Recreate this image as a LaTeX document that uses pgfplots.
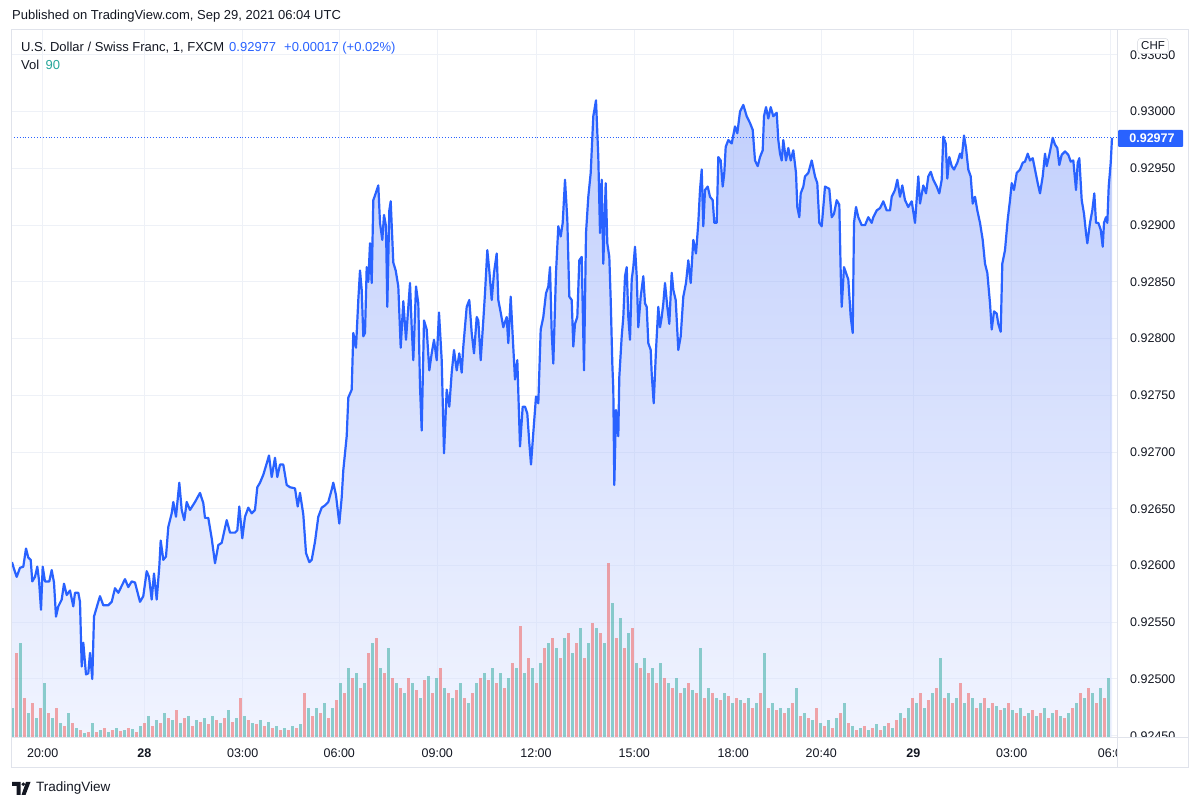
\documentclass[border=0pt]{standalone}
\usepackage{pgfplots}
\pgfplotsset{compat=1.18}
\usepackage{pgfplotstable}
\usepackage{fontspec}
\setmainfont{Liberation Sans}
\definecolor{tvblue}{HTML}{2962FF}
\definecolor{tvtext}{HTML}{131722}
\definecolor{tvgrid}{HTML}{EEF1F7}
\definecolor{tvborder}{HTML}{E0E3EB}
\definecolor{tvboxborder}{HTML}{D1D4DC}
\definecolor{tvteal}{HTML}{26A69A}
\definecolor{tvred}{HTML}{EF5350}
\definecolor{areatop}{HTML}{7896FA}
\definecolor{areabot}{HTML}{E1E8FF}

\pgfplotstableread{
x p
12 0.92603
13.3 0.92599
16.7 0.92590
20 0.92598
23.3 0.92599
26 0.92615
28.3 0.92607
30.7 0.92605
32.3 0.92586
35 0.92590
37.3 0.92599
39 0.92587
41 0.92561
42.7 0.92599
45 0.92586
49.3 0.92586
51.7 0.92596
54 0.92585
56 0.92555
58.3 0.92564
61.7 0.92570
64 0.92584
66.7 0.92574
70 0.92578
73.3 0.92564
75 0.92576
78.3 0.92576
80 0.92568
81.7 0.92511
83.3 0.92532
86 0.92504
88.3 0.92505
90 0.92523
92.3 0.92500
94 0.92555
97.3 0.92565
100 0.92573
103.3 0.92565
108.3 0.92565
111.7 0.92568
115 0.92580
118.3 0.92576
125 0.92588
128.3 0.92581
131.7 0.92586
135 0.92585
140 0.92568
143.3 0.92573
146.7 0.92595
149 0.92590
151.7 0.92570
154 0.92593
156.7 0.92570
159.3 0.92599
160.7 0.92622
163.3 0.92605
166 0.92608
168.3 0.92634
171.7 0.92646
173.3 0.92656
176 0.92643
179.3 0.92673
181.7 0.92649
184.3 0.92640
186.7 0.92656
190 0.92649
195 0.92656
200 0.92664
203.3 0.92655
205 0.92642
208.3 0.92642
211.7 0.92624
215 0.92602
218.3 0.92618
221.7 0.92620
226.7 0.92640
230 0.92629
235 0.92629
237.3 0.92631
239.3 0.92652
242.3 0.92624
245 0.92643
248.3 0.92651
251.7 0.92646
255 0.92649
257.3 0.92669
260 0.92673
263.3 0.92680
266.7 0.92690
269 0.92697
271.7 0.92678
275 0.92695
277.3 0.92678
280 0.92689
283.3 0.92689
286.7 0.92671
290 0.92669
295 0.92668
297.7 0.92652
300 0.92664
303.3 0.92645
306 0.92611
309.3 0.92603
311.7 0.92605
315 0.92621
318.3 0.92643
321.7 0.92651
325 0.92653
328.3 0.92656
331.7 0.92667
333.3 0.92673
336 0.92662
339.3 0.92637
341.7 0.92660
343.3 0.92684
345 0.92699
346.7 0.92714
348.3 0.92748
351.7 0.92755
353.3 0.92805
356 0.92792
358.3 0.92834
360 0.92860
361.7 0.92843
363.3 0.92802
365 0.92805
366.7 0.92863
368.3 0.92850
370 0.92884
371.7 0.92849
373.3 0.92922
375.7 0.92928
378.3 0.92935
380 0.92902
382.3 0.92887
384 0.92909
386 0.92899
387.3 0.92828
389.3 0.92913
390.7 0.92921
393.3 0.92867
395.7 0.92860
398.3 0.92846
400.7 0.92792
403.3 0.92833
406 0.92799
410 0.92849
411.7 0.92810
413.3 0.92781
416 0.92846
418.3 0.92831
420 0.92758
421.7 0.92719
424 0.92816
426.7 0.92808
429.3 0.92772
431.7 0.92787
434 0.92799
436.7 0.92781
439 0.92823
441.7 0.92781
444 0.92699
446.7 0.92755
449.3 0.92740
451.7 0.92770
454 0.92790
456.7 0.92772
459.3 0.92787
461.7 0.92770
463.3 0.92793
466.7 0.92828
469.3 0.92834
471.7 0.92805
474 0.92787
476.7 0.92819
478.3 0.92816
480.7 0.92781
483.3 0.92816
485 0.92840
487.3 0.92878
489.3 0.92860
491.7 0.92834
494 0.92858
496.7 0.92875
498.3 0.92834
500.7 0.92823
503.3 0.92810
506.7 0.92819
508.3 0.92796
510.7 0.92837
512.7 0.92802
515 0.92764
517.3 0.92781
520 0.92705
522.7 0.92740
525 0.92740
527.3 0.92734
529.3 0.92708
531 0.92689
533.3 0.92717
536 0.92749
538.3 0.92743
540.7 0.92808
543.3 0.92819
546 0.92840
548.3 0.92846
550 0.92863
551.7 0.92805
553.3 0.92778
556 0.92858
558.3 0.92899
560.7 0.92890
562.7 0.92902
565 0.92940
567.3 0.92905
569.3 0.92837
571.7 0.92834
573.3 0.92793
575 0.92813
577.3 0.92819
579.3 0.92869
581.7 0.92872
584 0.92772
586 0.92893
588.3 0.92925
590.7 0.92946
593.3 0.92996
596 0.93010
598.3 0.92960
600 0.92893
601.7 0.92940
603.3 0.92866
605.7 0.92937
607.3 0.92884
609.3 0.92872
610.7 0.92834
612.3 0.92778
613.3 0.92755
614.3 0.92671
616 0.92737
618.3 0.92714
619.3 0.92766
621.7 0.92802
623.3 0.92819
625 0.92855
626.7 0.92863
628.3 0.92819
630 0.92799
631.7 0.92852
633.3 0.92863
635 0.92881
636.7 0.92855
638.3 0.92810
640.7 0.92837
643.3 0.92855
645 0.92831
646.7 0.92828
648.3 0.92796
650.7 0.92790
651.7 0.92769
653.7 0.92743
656 0.92790
658.3 0.92828
660 0.92810
661.7 0.92819
663.3 0.92831
665 0.92849
667.3 0.92828
669.3 0.92813
671.7 0.92858
673.3 0.92843
675.7 0.92834
678.3 0.92790
680.7 0.92802
683.3 0.92837
686 0.92849
688.3 0.92869
690.7 0.92849
693.3 0.92887
696 0.92875
698.3 0.92902
700 0.92931
701.7 0.92949
703.3 0.92899
705 0.92931
707.7 0.92934
710 0.92925
712.7 0.92922
714.3 0.92902
716.7 0.92902
718.3 0.92960
720.7 0.92957
722.7 0.92934
724.3 0.92946
725.7 0.92969
728.3 0.92975
731.7 0.92972
735 0.92987
737.3 0.92981
740 0.93000
743.3 0.93006
746.7 0.92996
750 0.92990
752.7 0.92984
755 0.92957
757.7 0.92952
760 0.92960
762.7 0.92966
764 0.92996
766 0.93004
768.3 0.92994
770.7 0.93004
773.3 0.92996
776.7 0.92999
778.3 0.92975
780 0.92963
781.7 0.92957
783.3 0.92975
786 0.92957
788.3 0.92968
790.7 0.92957
793.3 0.92966
796 0.92946
797.3 0.92916
799.3 0.92907
800.7 0.92928
803.3 0.92934
805 0.92943
808.3 0.92946
811.7 0.92957
815 0.92943
817.3 0.92937
819.3 0.92902
821.7 0.92899
825 0.92934
829.3 0.92932
831.7 0.92907
834 0.92910
836.7 0.92922
839.3 0.92918
840.7 0.92858
841.7 0.92828
844 0.92863
848.3 0.92852
850.7 0.92819
852.7 0.92805
854 0.92902
856 0.92916
858.3 0.92907
861.7 0.92900
865 0.92900
868.3 0.92907
871.7 0.92902
873.3 0.92907
876.7 0.92913
880 0.92915
883.3 0.92921
886.7 0.92913
890 0.92913
891.7 0.92925
895 0.92931
897.3 0.92940
900 0.92925
902.3 0.92935
905 0.92922
908.3 0.92916
911.7 0.92921
915 0.92902
918.3 0.92943
920 0.92919
923.3 0.92935
926 0.92928
928.3 0.92943
930.7 0.92947
933.3 0.92940
936.7 0.92934
939.3 0.92928
941.7 0.92940
943.3 0.92978
945.7 0.92972
947.3 0.92941
949.3 0.92960
951.7 0.92952
954 0.92949
957.3 0.92955
960 0.92963
961.7 0.92959
964 0.92979
966 0.92968
968.3 0.92949
970.7 0.92943
972.7 0.92919
975 0.92925
977.3 0.92913
980 0.92902
982.7 0.92887
985 0.92866
987.3 0.92858
990 0.92831
991.7 0.92808
994 0.92824
996.7 0.92822
998.3 0.92813
1000.7 0.92806
1002.3 0.92866
1005 0.92878
1007.7 0.92905
1010 0.92922
1011.7 0.92937
1014 0.92931
1016.7 0.92946
1020 0.92949
1022.7 0.92955
1025 0.92956
1027.7 0.92963
1030 0.92957
1032.7 0.92959
1035 0.92949
1037.7 0.92937
1040 0.92928
1042.7 0.92943
1045 0.92963
1046.7 0.92952
1049.3 0.92962
1052.7 0.92977
1055 0.92971
1057.3 0.92968
1059.3 0.92953
1061.7 0.92962
1065 0.92965
1068.3 0.92962
1070.7 0.92956
1073.3 0.92957
1076 0.92931
1077.7 0.92955
1079.3 0.92959
1081.7 0.92922
1084 0.92910
1086 0.92893
1087.3 0.92884
1090 0.92902
1092.3 0.92913
1094.3 0.92928
1096 0.92902
1098.3 0.92902
1100.7 0.92896
1102.7 0.92881
1104 0.92902
1106 0.92907
1107.3 0.92902
1108.7 0.92934
1110.7 0.92955
1112 0.92977
}\pricetab

\pgfplotstableread{
x v
12 30
20 95
28 25
36 20
44 55
52 20
60 15
68 25
76 10
84 5
92 15
100 8
108 6
116 10
124 8
132 9
140 12
148 22
156 18
164 25
172 18
180 15
188 22
196 18
204 20
212 22
220 15
228 28
236 20
244 22
252 15
260 18
268 16
276 12
284 10
292 12
300 14
308 30
316 30
324 35
332 30
340 55
348 70
356 65
364 55
372 95
380 70
388 90
396 55
404 45
412 55
420 40
428 62
436 60
444 50
452 40
460 55
468 35
476 55
484 65
492 70
500 65
508 60
516 70
524 65
532 70
540 75
548 95
556 90
564 100
572 85
580 110
588 95
596 110
604 95
612 135
620 120
628 105
636 75
644 80
652 70
660 75
668 55
676 60
684 50
692 48
700 90
708 50
716 40
724 45
732 35
740 38
748 40
756 35
764 85
772 35
780 30
788 30
796 50
804 25
812 18
820 15
828 18
836 20
844 35
852 12
860 10
868 8
876 14
884 12
892 10
900 25
908 30
916 35
924 30
932 45
940 80
948 45
956 40
964 35
972 40
980 35
988 30
996 32
1004 30
1012 28
1020 30
1028 25
1036 22
1044 30
1052 25
1060 22
1068 25
1076 35
1084 40
1092 45
1100 50
1108 60
}\volteal

\pgfplotstableread{
x v
16 85
24 40
32 35
40 30
48 25
56 30
64 12
72 15
80 8
88 6
96 6
104 10
112 8
120 7
128 10
136 6
144 15
152 12
160 15
168 20
176 28
184 20
192 12
200 16
208 14
216 18
224 20
232 16
240 40
248 18
256 14
264 12
272 10
280 8
288 8
296 10
304 45
312 22
320 25
328 20
336 38
344 45
352 60
360 50
368 85
376 100
384 65
392 60
400 50
408 60
416 48
424 58
432 45
440 70
448 45
456 48
464 40
472 45
480 60
488 58
496 55
504 50
512 75
520 112
528 80
536 55
544 90
552 100
560 80
568 105
576 95
584 80
592 115
600 105
608 175
616 100
624 90
632 110
640 70
648 65
656 55
664 60
672 50
680 45
688 55
696 45
704 40
712 45
720 38
728 42
736 40
744 35
752 30
760 45
768 30
776 28
784 25
792 35
800 22
808 20
816 30
824 12
832 10
840 25
848 15
856 8
864 12
872 10
880 8
888 15
896 18
904 20
912 40
920 45
928 38
936 50
944 40
952 35
960 55
968 45
976 30
984 40
992 35
1000 28
1008 35
1016 25
1024 22
1032 28
1040 25
1048 20
1056 28
1064 20
1072 30
1080 45
1088 50
1096 35
1104 40
}\volred

\begin{document}
\begin{tikzpicture}
\useasboundingbox[fill=white] (0,0) rectangle (1200bp,807bp);
\begin{axis}[
  at={(11bp,69bp)}, anchor=south west,
  width=1106bp, height=708bp, scale only axis,
  xmin=11, xmax=1117, ymin=0.92448, ymax=0.93072,
  axis line style={draw=none},
  xtick={42.7,144.3,242.7,339.3,437.3,536,634.3,733.3,821.3,913.3,1011.7,1110},
  xticklabels={20:00,\textbf{28},03:00,06:00,09:00,12:00,15:00,18:00,20:40,\textbf{29},03:00,06:0},
  ytick={0.9245,0.925,0.9255,0.926,0.9265,0.927,0.9275,0.928,0.9285,0.929,0.9295,0.93,0.9305},
  yticklabels={0.92450,0.92500,0.92550,0.92600,0.92650,0.92700,0.92750,0.92800,0.92850,0.92900,0.92950,0.93000,0.93050},
  grid=major, major grid style={draw=tvgrid, line width=1bp},
  major tick length=0pt,
  yticklabel pos=right,
  tick label style={font=\fontsize{12.5bp}{14bp}\selectfont, text=tvtext},
  yticklabel style={anchor=west, inner sep=0pt, xshift=13bp},
  xticklabel style={anchor=base, inner sep=0pt, yshift=-19.5bp},
]
\addplot[draw=none, top color=areatop, bottom color=areabot, fill opacity=0.45]
  table[x=x,y=p]{\pricetab} -- (axis cs:1112,0.92448) -- (axis cs:12,0.92448) -- cycle;
\addplot[tvblue, line width=2.2bp, line join=round] table[x=x,y=p]{\pricetab};
\addplot[tvblue, dotted, line width=0.9bp] coordinates {(11,0.92977) (1117,0.92977)};
\end{axis}
\begin{axis}[
  at={(11bp,69bp)}, anchor=south west,
  width=1106bp, height=708bp, scale only axis,
  xmin=11, xmax=1117, ymin=0, ymax=708, hide axis,
]
\addplot[ycomb, tvteal, line width=3bp, opacity=0.5] table[x=x,y=v]{\volteal};
\addplot[ycomb, tvred, line width=3bp, opacity=0.5] table[x=x,y=v]{\volred};
\end{axis}
% clip the lowest price label and draw the frame
\fill[white] (1118bp,39.5bp) rectangle (1187.5bp,68.5bp);
\draw[tvborder, line width=1bp] (11bp,39bp) rectangle (1188bp,777bp);
\draw[tvborder, line width=1bp] (11bp,69bp) -- (1188bp,69bp);
\draw[tvborder, line width=1bp] (1117.5bp,39bp) -- (1117.5bp,777bp);
% CHF box
\node[draw=tvboxborder, fill=white, rounded corners=3bp, inner xsep=3.5bp, inner ysep=3.5bp,
      font=\fontsize{11.5bp}{13bp}\selectfont, text=tvtext] at (1153bp,761bp) {CHF};
% last price label
\fill[tvblue, rounded corners=1bp] (1118bp,660bp) rectangle (1183bp,677bp);
\node[text=white, font=\fontsize{12.5bp}{14bp}\selectfont\bfseries, inner sep=0pt] at (1152bp,668.5bp) {0.92977};
% header
\node[anchor=west, inner sep=0pt, text=tvtext, font=\fontsize{13bp}{15bp}\selectfont] at (12bp,791bp)
  {Published on TradingView.com, Sep 29, 2021 06:04 UTC};
\node[anchor=west, inner sep=0pt, text=tvtext, font=\fontsize{13bp}{15bp}\selectfont] at (21bp,759bp)
  {U.S. Dollar / Swiss Franc, 1, FXCM};
\node[anchor=west, inner sep=0pt, text=tvblue, font=\fontsize{13bp}{15bp}\selectfont] at (229bp,759bp)
  {0.92977\hspace{8bp}+0.00017 (+0.02\%)};
\node[anchor=west, inner sep=0pt, text=tvtext, font=\fontsize{13bp}{15bp}\selectfont] at (21bp,742bp) {Vol};
\node[anchor=west, inner sep=0pt, text=tvteal, font=\fontsize{13bp}{15bp}\selectfont] at (45.5bp,742bp) {90};
% footer logo
\fill[tvtext] (12bp,25bp) -- (20.5bp,25bp) -- (20.5bp,12bp) -- (16.5bp,12bp) -- (16.5bp,21bp) -- (12bp,21bp) -- cycle;
\fill[tvtext] (23.3bp,22.8bp) circle (1.9bp);
\fill[tvtext] (26bp,25bp) -- (30.5bp,25bp) -- (25.5bp,12bp) -- (21.5bp,12bp) -- cycle;
\node[anchor=west, inner sep=0pt, text=tvtext, font=\fontsize{13.5bp}{15bp}\selectfont] at (36bp,19bp) {TradingView};
\end{tikzpicture}
\end{document}
